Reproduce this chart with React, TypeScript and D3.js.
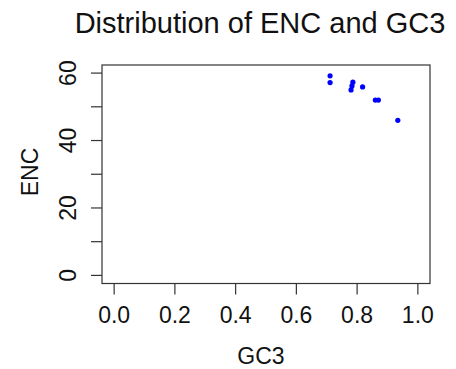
import React, { useRef, useEffect } from 'react';
import * as d3 from 'd3';

const gc3 = [0.711, 0.711, 0.786, 0.783, 0.780, 0.818, 0.860, 0.870, 0.934];
const enc = [59.2, 57.2, 57.3, 56.2, 55.0, 55.9, 52.0, 52.0, 46.0];
const xTicks = [0, 0.2, 0.4, 0.6, 0.8, 1.0];
const yTicks = [0, 10, 20, 30, 40, 50, 60];
const yLabels = [0, 20, 40, 60];

const W = 456;
const H = 369;
const FONT = "'Liberation Sans', Arial, Helvetica, sans-serif";

const App: React.FC = () => {
  const svgRef = useRef<SVGSVGElement>(null);

  useEffect(() => {
    if (!svgRef.current) return;
    const svg = d3.select(svgRef.current);
    svg.selectAll("*").remove();

    // plot region (R style, 4% padding on each side)
    const left = 102, right = 430, top = 65, bottom = 283.5;

    const x = d3.scaleLinear().domain([-0.04, 1.04]).range([left, right]);
    const y = d3.scaleLinear().domain([-2.4, 62.4]).range([bottom, top]);

    svg.append("rect").attr("width", W).attr("height", H).attr("fill", "white");

    // box
    svg.append("rect")
      .attr("x", left)
      .attr("y", top)
      .attr("width", right - left)
      .attr("height", bottom - top)
      .attr("fill", "none")
      .attr("stroke", "#333")
      .attr("stroke-width", 1.2);

    // x axis ticks + labels
    const xAxis = svg.append("g");
    xTicks.forEach(t => {
      xAxis.append("line")
        .attr("x1", x(t)).attr("x2", x(t))
        .attr("y1", bottom).attr("y2", bottom + 11)
        .attr("stroke", "#333").attr("stroke-width", 1.2);
      xAxis.append("text")
        .attr("x", x(t))
        .attr("y", 323)
        .attr("text-anchor", "middle")
        .style("font-family", FONT)
        .style("font-size", "23px")
        .style("fill", "#111")
        .text(d3.format(".1f")(t));
    });

    // y axis ticks + labels
    const yAxis = svg.append("g");
    yTicks.forEach(t => {
      yAxis.append("line")
        .attr("x1", left - 11).attr("x2", left)
        .attr("y1", y(t)).attr("y2", y(t))
        .attr("stroke", "#333").attr("stroke-width", 1.2);
    });
    yLabels.forEach(t => {
      yAxis.append("text")
        .attr("transform", `translate(76, ${y(t)}) rotate(-90)`)
        .attr("text-anchor", "middle")
        .style("font-family", FONT)
        .style("font-size", "23px")
        .style("fill", "#111")
        .text(t);
    });

    // points
    svg.selectAll(".pt")
      .data(gc3.map((g, i) => ({ g, e: enc[i] })))
      .enter()
      .append("circle")
      .attr("class", "pt")
      .attr("cx", d => x(d.g))
      .attr("cy", d => y(d.e))
      .attr("r", 2.6)
      .attr("fill", "#0000ff");

    // title
    svg.append("text")
      .attr("x", 260)
      .attr("y", 32.5)
      .attr("text-anchor", "middle")
      .style("font-family", FONT)
      .style("font-size", "29px")
      .style("fill", "#111")
      .text("Distribution of ENC and GC3");

    // axis labels
    svg.append("text")
      .attr("x", 261)
      .attr("y", 363.5)
      .attr("text-anchor", "middle")
      .style("font-family", FONT)
      .style("font-size", "23px")
      .style("fill", "#111")
      .text("GC3");

    svg.append("text")
      .attr("transform", `translate(38, 172) rotate(-90)`)
      .attr("text-anchor", "middle")
      .style("font-family", FONT)
      .style("font-size", "23px")
      .style("fill", "#111")
      .text("ENC");
  }, []);

  return (
    <svg
      ref={svgRef}
      width={W}
      height={H}
      style={{ position: 'absolute', left: 0, top: 0, display: 'block' }}
    />
  );
};

export default App;
